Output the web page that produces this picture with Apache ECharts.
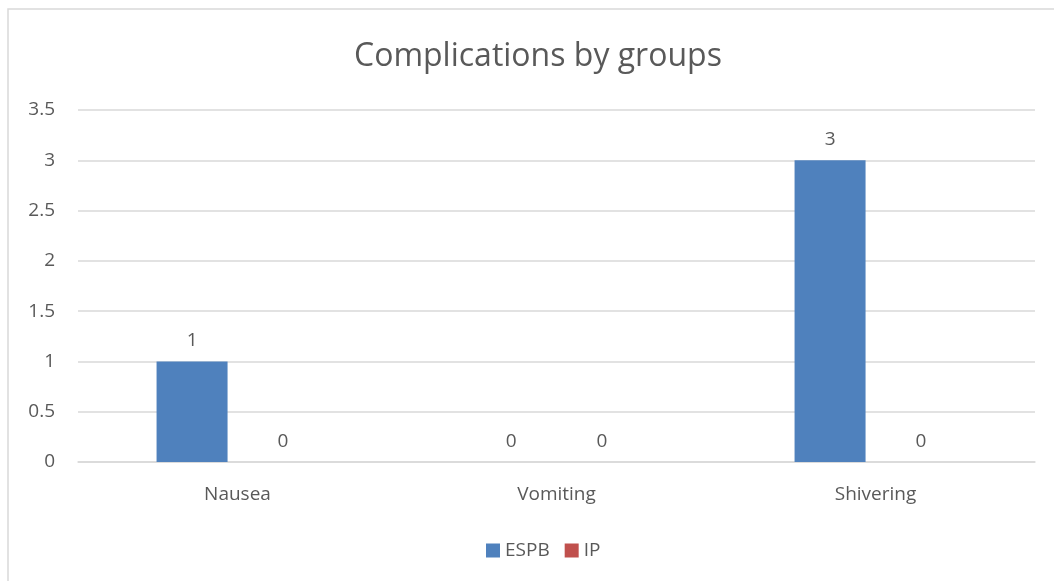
<!DOCTYPE html>
<html lang="en">
<head>
    <meta charset="UTF-8">
    <title>Complications by groups</title>
    <script src="https://cdn.jsdelivr.net/npm/echarts@6/dist/echarts.min.js"></script>
    <style>
        body { margin: 0; }
        #root { width: 1054px; height: 581px; }
    </style>
</head>
<body>
    <div id="root"></div>
    <script>
        var categories = ['Nausea', 'Vomiting', 'Shivering'];
        var espb = [1, 0, 3];
        var ip = [0, 0, 0];
        var yTicks = [0, 0.5, 1, 1.5, 2, 2.5, 3, 3.5];

        var txt = '#595959';
        var font = 'Open Sans';

        var chart = echarts.init(document.getElementById('root'));

        function barSeries(name, data, color) {
            return {
                name: name,
                type: 'bar',
                data: data,
                barWidth: 71,
                barGap: '28%',
                itemStyle: { color: color },
                label: {
                    show: true,
                    position: 'top',
                    distance: 11,
                    color: txt,
                    fontFamily: font,
                    fontSize: 19
                }
            };
        }

        chart.setOption({
            backgroundColor: '#fff',
            graphic: [{
                type: 'rect',
                shape: { x: 8, y: 9, width: 1060, height: 600 },
                style: { fill: 'none', stroke: '#d9d9d9', lineWidth: 1.5 },
                silent: true
            }],
            title: {
                text: 'Complications by groups',
                left: 349,
                top: 36,
                textStyle: { color: txt, fontFamily: font, fontSize: 32, fontWeight: 'normal' }
            },
            legend: {
                top: 536,
                left: 481,
                itemWidth: 14,
                itemHeight: 14,
                itemGap: 15,
                icon: 'rect',
                textStyle: { color: txt, fontFamily: font, fontSize: 19 },
                data: ['ESPB', 'IP']
            },
            grid: { left: 78, right: 19, top: 110, bottom: 119 },
            xAxis: {
                type: 'category',
                data: categories,
                axisLine: { lineStyle: { color: '#d9d9d9', width: 1.5 } },
                axisTick: { show: false },
                axisLabel: { color: txt, fontFamily: font, fontSize: 19, margin: 23 }
            },
            yAxis: {
                type: 'value',
                min: yTicks[0],
                max: yTicks[yTicks.length - 1],
                interval: 0.5,
                axisLine: { show: false },
                axisTick: { show: false },
                splitLine: { lineStyle: { color: '#d9d9d9', width: 1.5 } },
                axisLabel: { color: txt, fontFamily: font, fontSize: 19, margin: 23 }
            },
            series: [
                barSeries('ESPB', espb, '#4f81bd'),
                barSeries('IP', ip, '#c0504d')
            ]
        });
    </script>
</body>
</html>
